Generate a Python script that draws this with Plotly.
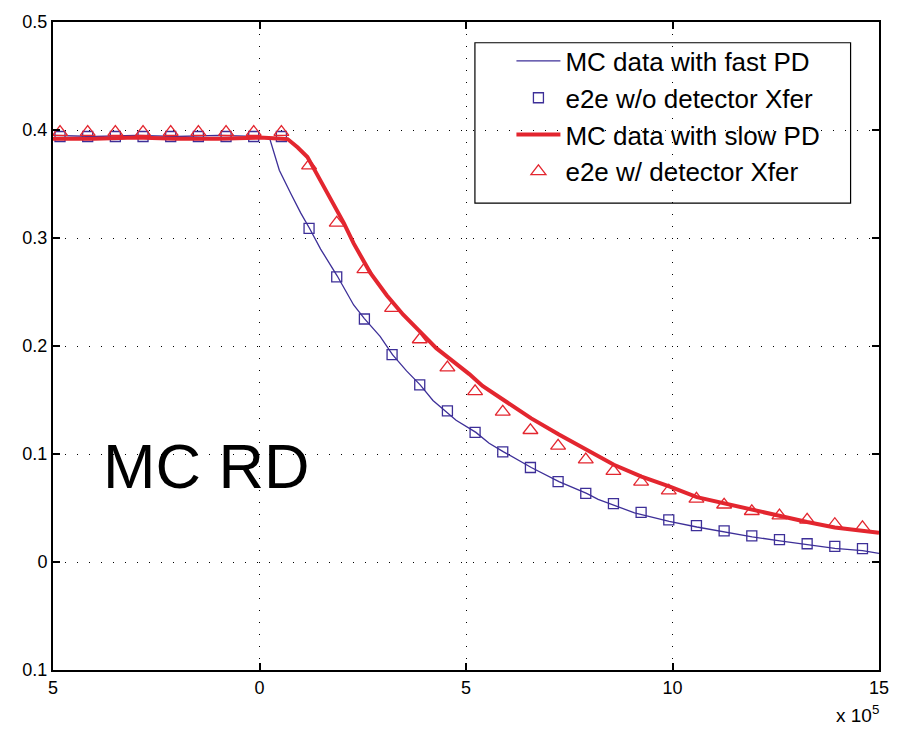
import plotly.graph_objects as go

# x in units of 1e5
fast_x = [-5.0, -4.0, -3.0, -2.0, -1.0, 0.0, 0.24, 0.48, 0.76, 1.0, 1.21, 1.48, 1.88, 2.28, 2.54,
          2.92, 3.22, 3.56, 3.89, 4.20, 4.76, 5.24, 5.56, 5.91, 6.58, 7.25, 7.92, 8.20, 9.08,
          9.92, 10.59, 11.26, 11.93, 12.60, 13.26, 13.93, 14.60, 15.0]
fast_y = [0.395, 0.394, 0.395, 0.394, 0.395, 0.394, 0.393, 0.3627, 0.341, 0.323, 0.309, 0.2897,
          0.265, 0.238, 0.2254, 0.209, 0.192, 0.177, 0.164, 0.1496, 0.1313, 0.120, 0.110, 0.102,
          0.0875, 0.0744, 0.0635, 0.058, 0.0455, 0.0376, 0.0324, 0.0279, 0.0233, 0.0196, 0.0163,
          0.0126, 0.0105, 0.008]

slow_x = [-5.0, -4.0, -3.0, -2.0, -1.0, 0.0, 0.56, 0.68, 0.92, 1.16, 1.32, 1.56, 1.80, 2.04,
          2.28, 2.68, 3.08, 3.48, 3.88, 4.28, 4.68, 5.08, 5.40, 5.91, 6.58, 7.25, 7.92, 8.58,
          9.25, 9.92, 10.59, 11.26, 11.93, 12.60, 13.26, 13.93, 14.60, 15.0]
slow_y = [0.392, 0.392, 0.393, 0.392, 0.392, 0.393, 0.392, 0.3916, 0.384, 0.375, 0.364, 0.3475,
          0.331, 0.314, 0.295, 0.268, 0.247, 0.229, 0.2135, 0.198, 0.186, 0.174, 0.163, 0.150,
          0.133, 0.118, 0.104, 0.090, 0.079, 0.070, 0.060, 0.054, 0.048, 0.042, 0.037, 0.032,
          0.029, 0.027]

mark_x = [-4.83, -4.16, -3.49, -2.82, -2.15, -1.48, -0.81, -0.14, 0.53, 1.20, 1.87, 2.54, 3.21,
          3.88, 4.55, 5.22, 5.89, 6.56, 7.23, 7.90, 8.57, 9.24, 9.91, 10.58, 11.25, 11.92, 12.59,
          13.26, 13.93, 14.60]
square_y = [0.394, 0.394, 0.394, 0.394, 0.394, 0.394, 0.394, 0.394, 0.394, 0.309, 0.264, 0.225,
            0.192, 0.164, 0.140, 0.120, 0.102, 0.0875, 0.0744, 0.0635, 0.054, 0.046, 0.039,
            0.0336, 0.0288, 0.0242, 0.0208, 0.0169, 0.0144, 0.0123]
tri_y = [0.398, 0.398, 0.398, 0.398, 0.398, 0.398, 0.398, 0.398, 0.398, 0.367, 0.314, 0.271,
         0.235, 0.206, 0.180, 0.158, 0.139, 0.122, 0.1076, 0.0948, 0.0842, 0.0741, 0.066,
         0.0585, 0.053, 0.047, 0.043, 0.039, 0.035, 0.032]

x_ticks = [-5, 0, 5, 10, 15]
x_ticktext = ["5", "0", "5", "10", "15"]
y_ticks = [-0.1, 0.0, 0.1, 0.2, 0.3, 0.4, 0.5]
y_ticktext = ["0.1", "0", "0.1", "0.2", "0.3", "0.4", "0.5"]

names = ["MC data with fast PD", "e2e w/o detector Xfer", "MC data with slow PD", "e2e w/ detector Xfer"]

BLUE = "#3d2f98"
RED = "#e3262f"
FONT = "Liberation Sans, Arial, Helvetica, sans-serif"

fig = go.Figure()
fig.add_trace(go.Scatter(x=fast_x, y=fast_y, mode="lines", name=names[0],
                         line=dict(color=BLUE, width=1.3)))
fig.add_trace(go.Scatter(x=mark_x, y=square_y, mode="markers", name=names[1],
                         marker=dict(symbol="square-open", size=10, color=BLUE,
                                     line=dict(width=1.3, color=BLUE))))
fig.add_trace(go.Scatter(x=slow_x, y=slow_y, mode="lines", name=names[2],
                         line=dict(color=RED, width=4)))
fig.add_trace(go.Scatter(x=mark_x, y=tri_y, mode="markers", name=names[3],
                         marker=dict(symbol="triangle-up-open", size=13, color=RED,
                                     line=dict(width=1.3, color=RED))))

axis_common = dict(showline=True, linecolor="black", linewidth=2, mirror="ticks",
                   ticks="inside", ticklen=7, tickcolor="black", tickwidth=1.5,
                   showgrid=True, gridcolor="black", gridwidth=1, griddash="1px,11px",
                   zeroline=False, tickfont=dict(size=18, color="black", family=FONT))

fig.update_xaxes(range=[-5, 15], tickvals=x_ticks, ticktext=x_ticktext, **axis_common)
fig.update_yaxes(range=[-0.1, 0.5], tickvals=y_ticks, ticktext=y_ticktext, **axis_common)

fig.add_shape(type="rect", xref="paper", yref="paper", x0=0.5108, x1=0.9656, y0=0.7204, y1=0.968,
              line=dict(color="black", width=1.2), fillcolor="rgba(0,0,0,0)", layer="above")

fig.add_annotation(text="MC RD", xref="paper", yref="paper", x=0.058, y=0.315,
                   xanchor="left", yanchor="middle", showarrow=False,
                   font=dict(size=63, color="black", family=FONT))
fig.add_annotation(text="x 10<sup>5</sup>", xref="paper", yref="paper", x=1.003, y=-0.068,
                   xanchor="right", yanchor="middle", showarrow=False,
                   font=dict(size=19, color="black", family=FONT))

fig.update_layout(
    width=901, height=730,
    margin=dict(l=53, r=14, t=13, b=60),
    paper_bgcolor="white", plot_bgcolor="white",
    font=dict(family=FONT, color="black"),
    legend=dict(x=0.555, y=0.976, xanchor="left", yanchor="top",
                bgcolor="rgba(0,0,0,0)", borderwidth=0, itemwidth=44,
                font=dict(size=26, color="black", family=FONT), tracegroupgap=0),
    showlegend=True,
)

fig.write_html("out.html")
